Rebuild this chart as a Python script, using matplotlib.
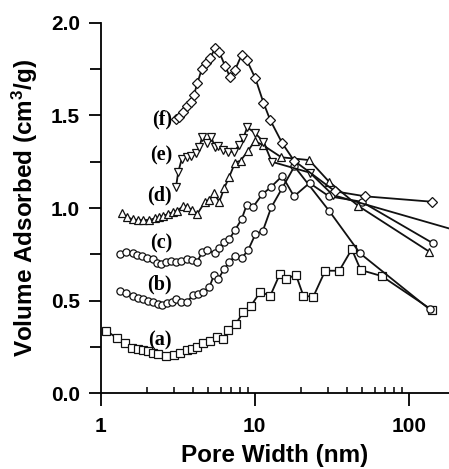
import matplotlib
matplotlib.use("Agg")
import matplotlib.pyplot as plt
from matplotlib.ticker import FixedLocator, NullFormatter, MultipleLocator, FormatStrFormatter

plt.rcParams['font.family'] = ['Liberation Sans', 'DejaVu Sans']
plt.rcParams['font.weight'] = 'bold'
plt.rcParams['mathtext.fontset'] = 'custom'
plt.rcParams['mathtext.rm'] = 'Liberation Sans:bold'
plt.rcParams['mathtext.bf'] = 'Liberation Sans:bold'
plt.rcParams['mathtext.it'] = 'Liberation Sans:bold'

# ---- data ----
a_x = [1.09, 1.27, 1.44, 1.59, 1.74, 1.88, 2.03, 2.19, 2.36, 2.65, 2.99, 3.27, 3.62, 3.90,
       4.20, 4.62, 5.13, 5.66, 6.20, 6.74, 7.53, 8.43, 9.46, 10.9, 12.6, 14.6, 16.0, 18.5,
       20.7, 24.0, 28.7, 35.4, 42.7, 48.8, 66.8, 141]
a_y = [0.337, 0.297, 0.270, 0.243, 0.238, 0.232, 0.228, 0.218, 0.211, 0.202, 0.207, 0.216,
       0.232, 0.236, 0.247, 0.270, 0.281, 0.304, 0.292, 0.341, 0.373, 0.437, 0.472, 0.548,
       0.524, 0.645, 0.615, 0.640, 0.526, 0.520, 0.661, 0.661, 0.777, 0.665, 0.632, 0.450]

b_x = [1.34, 1.47, 1.61, 1.75, 1.89, 2.04, 2.19, 2.37, 2.49, 2.68, 2.89, 3.07, 3.31, 3.62,
       3.99, 4.30, 4.64, 5.07, 5.44, 5.80, 6.33, 6.83, 7.45, 8.22, 9.07, 10.1, 11.3, 12.8,
       15.1, 18.1, 30.6, 48.3, 137]
b_y = [0.553, 0.539, 0.524, 0.514, 0.506, 0.499, 0.492, 0.481, 0.476, 0.485, 0.494, 0.506,
       0.492, 0.492, 0.530, 0.535, 0.548, 0.571, 0.638, 0.616, 0.670, 0.706, 0.742, 0.728,
       0.773, 0.858, 0.877, 1.003, 1.108, 1.225, 0.982, 0.755, 0.452]

c_x = [1.33, 1.47, 1.61, 1.73, 1.86, 2.01, 2.17, 2.33, 2.45, 2.65, 2.85, 3.07, 3.31, 3.62,
       3.90, 4.24, 4.57, 4.92, 5.53, 5.89, 6.33, 6.84, 7.45, 8.22, 8.87, 9.78, 11.2, 12.7,
       15.1, 18.0, 22.7, 30.4, 49.4, 144]
c_y = [0.751, 0.761, 0.759, 0.746, 0.741, 0.732, 0.723, 0.705, 0.697, 0.710, 0.714, 0.710,
       0.714, 0.724, 0.719, 0.710, 0.764, 0.773, 0.755, 0.782, 0.818, 0.831, 0.881, 0.939,
       1.016, 1.007, 1.074, 1.112, 1.173, 1.063, 1.135, 1.063, 1.034, 0.809]

d_x = [1.37, 1.49, 1.61, 1.74, 1.89, 2.07, 2.25, 2.39, 2.55, 2.75, 2.93, 3.14, 3.44, 3.65,
       3.90, 4.24, 4.76, 5.07, 5.44, 5.89, 6.33, 6.84, 7.45, 8.10, 9.07, 10.0, 11.3, 14.9,
       22.6, 30.4, 47.1, 136]
d_y = [0.971, 0.950, 0.939, 0.935, 0.935, 0.935, 0.944, 0.950, 0.957, 0.968, 0.977, 0.985,
       1.011, 1.007, 0.989, 0.968, 1.034, 1.043, 1.079, 1.034, 1.106, 1.169, 1.245, 1.256,
       1.310, 1.362, 1.340, 1.274, 1.259, 1.142, 1.011, 0.764]

e_x = [3.08, 3.19, 3.36, 3.61, 3.86, 4.16, 4.37, 4.56, 4.88, 5.21, 5.53, 5.81, 6.25, 6.73,
       7.34, 7.95, 8.43, 8.94, 10.0, 11.4, 12.9, 22.8, 32.2, 250]
e_y = [1.112, 1.196, 1.265, 1.277, 1.281, 1.296, 1.328, 1.385, 1.350, 1.385, 1.328, 1.335,
       1.314, 1.305, 1.305, 1.341, 1.377, 1.436, 1.407, 1.358, 1.250, 1.191, 1.070, 0.857]

f_x = [3.08, 3.24, 3.44, 3.65, 3.84, 4.03, 4.24, 4.53, 4.83, 5.12, 5.53, 5.87, 6.42, 6.92,
       7.45, 8.22, 8.87, 10.1, 11.4, 12.6, 15.1, 18.0, 33.3, 52.3, 141]
f_y = [1.479, 1.490, 1.521, 1.551, 1.575, 1.611, 1.674, 1.750, 1.785, 1.809, 1.863, 1.845,
       1.768, 1.707, 1.746, 1.827, 1.800, 1.701, 1.569, 1.476, 1.350, 1.256, 1.090, 1.063,
       1.034]

labels = ['(a)', '(b)', '(c)', '(d)', '(e)', '(f)']
label_y = [0.286, 0.584, 0.809, 1.070, 1.286, 1.476]
label_x = 2.90

series = [(a_x, a_y, 's'), (b_x, b_y, 'o'), (c_x, c_y, 'o'),
          (d_x, d_y, '^'), (e_x, e_y, 'v'), (f_x, f_y, 'D')]

fig = plt.figure(figsize=(4.49, 4.69), dpi=100)
ax = fig.add_axes([0.2243, 0.162, 0.7757, 0.789])

for xs, ys, m in series:
    ms = 4.8 if m == 'D' else 5.2
    ax.plot(xs, ys, color='#111111', lw=1.3, marker=m, ms=ms, mfc='white',
            mec='#111111', mew=0.9)

for lab, ly in zip(labels, label_y):
    ax.text(label_x, ly, lab, ha='right', va='center', fontsize=14.5,
            family='Liberation Serif', fontweight='bold')

ax.set_xscale('log')
ax.set_xlim(1, 182.7)
ax.set_ylim(0, 2.0)
ax.set_xticks([1, 10, 100])
ax.set_xticklabels(['1', '10', '100'])
ax.xaxis.set_minor_locator(FixedLocator([k * 10 ** e for e in range(0, 3) for k in range(2, 10)]))
ax.xaxis.set_minor_formatter(NullFormatter())
ax.yaxis.set_major_locator(MultipleLocator(0.5))
ax.yaxis.set_minor_locator(MultipleLocator(0.25))
ax.yaxis.set_major_formatter(FormatStrFormatter('%.1f'))

for s in ['top', 'right']:
    ax.spines[s].set_visible(False)
for s in ['left', 'bottom']:
    ax.spines[s].set_linewidth(1.3)

ax.tick_params(axis='y', which='major', direction='out', length=9, width=1.3,
               labelsize=15, pad=6)
ax.tick_params(axis='y', which='minor', direction='out', length=8, width=1.3)
ax.tick_params(axis='x', which='major', direction='out', length=9, width=1.3,
               labelsize=15, pad=8)
ax.tick_params(axis='x', which='minor', direction='in', length=4, width=1.1)

ax.set_xlabel('Pore Width (nm)', fontsize=17.5, fontweight='bold', labelpad=6)
ax.set_ylabel('Volume Adsorbed (cm$^3$/g)', fontsize=17.5, fontweight='bold', labelpad=8)

fig.savefig('out.png', dpi=100)
